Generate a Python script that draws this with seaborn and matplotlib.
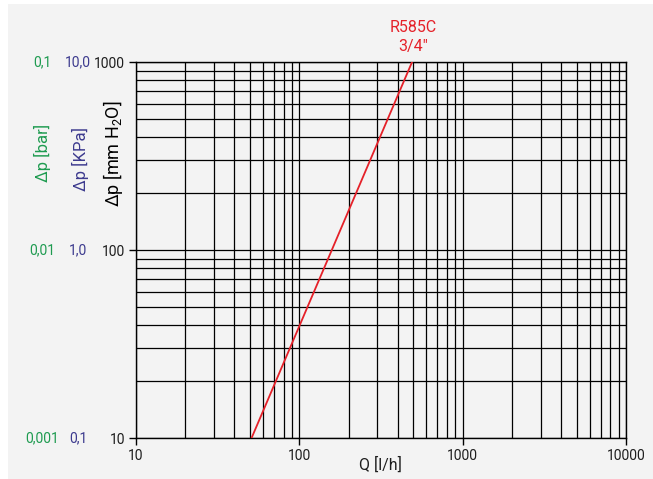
import numpy as np
import pandas as pd
import matplotlib
matplotlib.use("Agg")
import matplotlib.pyplot as plt
import matplotlib.ticker as mticker
from matplotlib.patches import Rectangle
import seaborn as sns

# dane (krzywa R585C 3/4")
przeplyw = [51, 490]          # Q [l/h]
spadek = [10, 1000]           # dp [mm H2O]

y_ticki = [10, 100, 1000]
y_mm = ["10", "100", "1000"]
y_kpa = ["0,1", "1,0", "10,0"]
y_bar = ["0,001", "0,01", "0,1"]
x_ticki = [10, 100, 1000, 10000]
x_etykiety = ["10", "100", "1000", "10000"]

df = pd.DataFrame({"Q": przeplyw, "dp": spadek})

sns.set_style("white")
plt.rcParams['font.family'] = ['Roboto', 'DejaVu Sans']
plt.rcParams['mathtext.default'] = 'regular'

W, H = 653, 479
szary = "#f3f3f3"
zielony = "#1e9b50"
fiolet = "#3c3a8e"
czerwony = "#e52129"
ciemny = "#1e1e1e"

fig = plt.figure(figsize=(W / 100, H / 100), dpi=100, facecolor="white")
fig.patches.append(Rectangle((8 / W, 0), 1, 1 - 4 / H, transform=fig.transFigure,
                             facecolor=szary, edgecolor="none", zorder=-10))
ax = fig.add_axes([136 / W, 1 - 438 / H, (626 - 136) / W, (438 - 62) / H])
ax.set_facecolor(szary)

sns.lineplot(data=df, x="Q", y="dp", ax=ax, color=czerwony, linewidth=1.3, zorder=5)

ax.set_xscale("log")
ax.set_yscale("log")
ax.set_xlim(10, 10000)
ax.set_ylim(10, 1000)

ax.xaxis.set_major_locator(mticker.FixedLocator(x_ticki))
ax.xaxis.set_major_formatter(mticker.FixedFormatter(x_etykiety))
ax.yaxis.set_major_locator(mticker.FixedLocator(y_ticki))
ax.yaxis.set_major_formatter(mticker.FixedFormatter(y_mm))
ax.xaxis.set_minor_locator(mticker.LogLocator(base=10, subs=np.arange(2, 10)))
ax.yaxis.set_minor_locator(mticker.LogLocator(base=10, subs=np.arange(2, 10)))
ax.xaxis.set_minor_formatter(mticker.NullFormatter())
ax.yaxis.set_minor_formatter(mticker.NullFormatter())

ax.grid(True, which="both", color="black", linewidth=0.9)
ax.tick_params(which="major", direction="out", length=5, width=1, color="black",
               labelsize=10, labelcolor=ciemny, left=True, bottom=True, pad=3)
ax.tick_params(which="minor", length=0)
for s in ax.spines.values():
    s.set_color("black")
    s.set_linewidth(1)

ax.set_xlabel("")
ax.set_ylabel("")

def px(x, y):
    return x / W, 1 - y / H

# dodatkowe skale po lewej
for y, kpa, bar in zip([438, 250, 62], y_kpa, y_bar):
    fig.text(*px(78, y), kpa, color=fiolet, fontsize=10, ha="center", va="center")
    fig.text(*px(42, y), bar, color=zielony, fontsize=10, ha="center", va="center")

fig.text(*px(42, 153), "Δp [bar]", color=zielony, fontsize=12, rotation=90,
         ha="center", va="center")
fig.text(*px(80, 159), "Δp [KPa]", color=fiolet, fontsize=12, rotation=90,
         ha="center", va="center")
fig.text(*px(113, 154), "Δp [mm H$_2$O]", color="black", fontsize=13, rotation=90,
         ha="center", va="center")

fig.text(*px(380, 465), "Q [l/h]", color=ciemny, fontsize=11.5, ha="center", va="center")

fig.text(*px(413, 27), "R585C", color=czerwony, fontsize=11.5, ha="center", va="center")
fig.text(*px(413, 47), "3/4\u2033", color=czerwony, fontsize=11.5, ha="center", va="center")

fig.savefig("out.png", dpi=100, facecolor="white")
